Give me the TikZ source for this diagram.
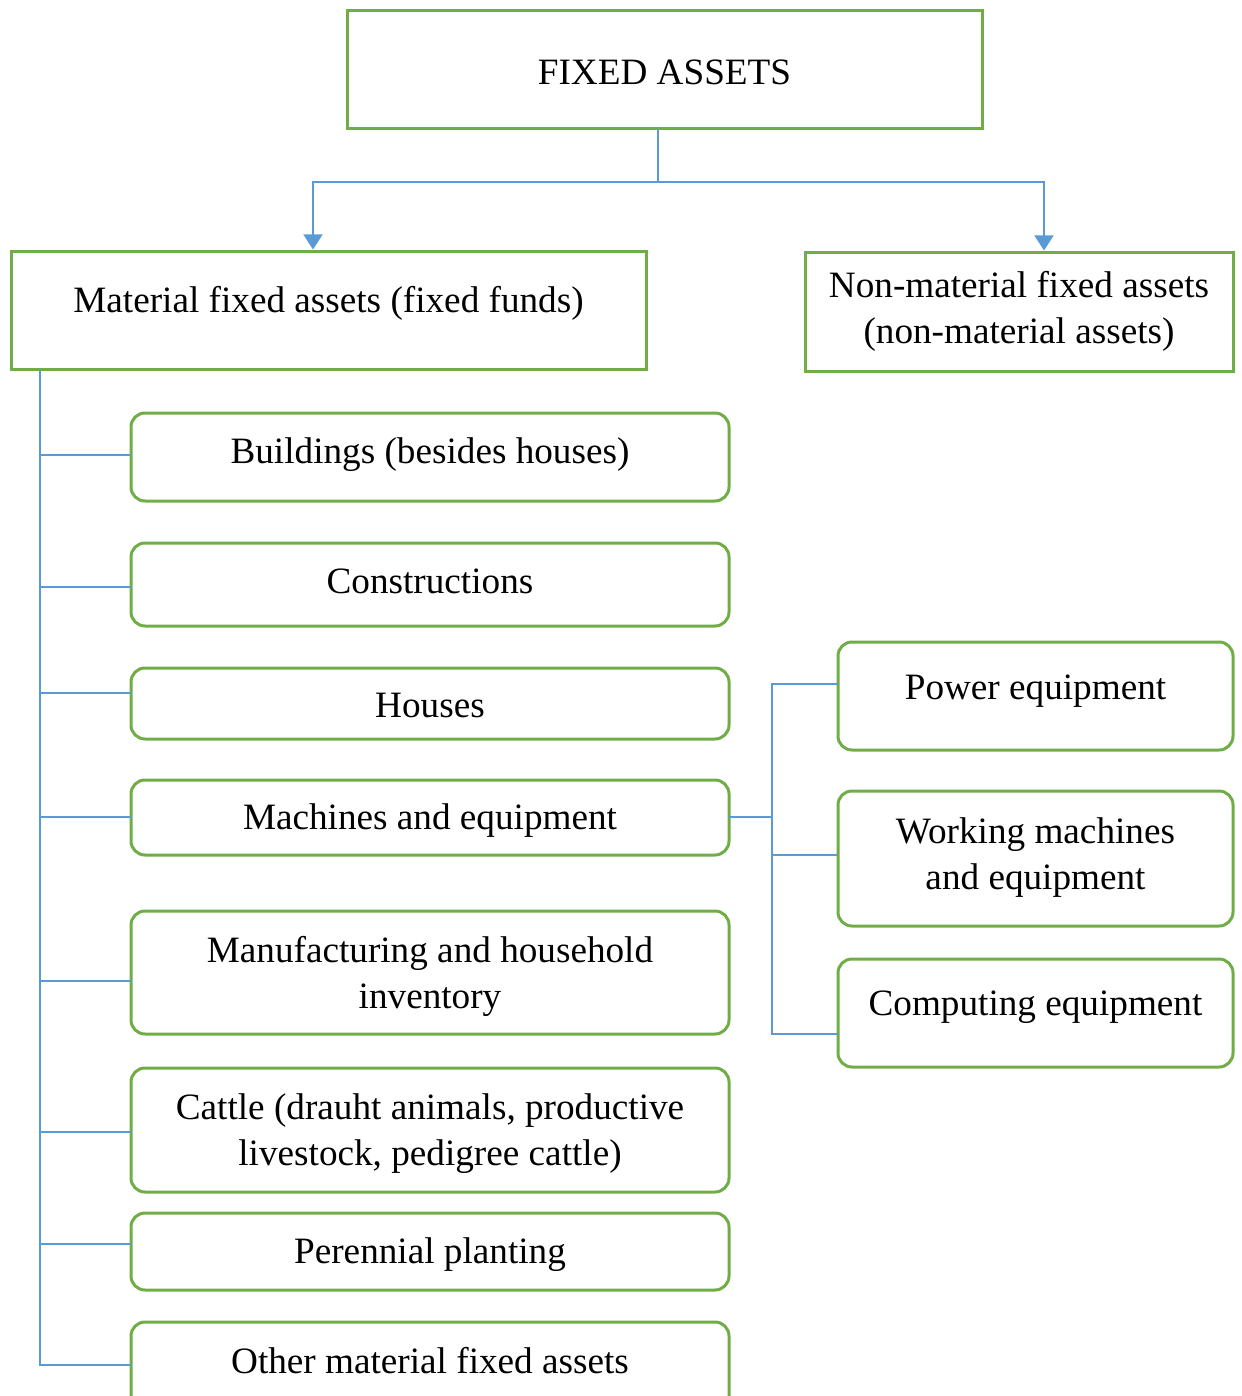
\documentclass[tikz,border=0pt]{standalone}
\usepackage{fontspec}
\setmainfont{Liberation Serif}
\usetikzlibrary{arrows.meta}
\definecolor{grn}{RGB}{112,173,71}
\definecolor{blu}{RGB}{91,155,213}
\newcommand\oneline[2]{\raisebox{#1}[13pt][4pt]{#2}}
\newcommand\twoline[2]{\raisebox{#1}[\height][\depth]{\begin{tabular}{@{}c@{}}#2\end{tabular}}}
\begin{document}
\begin{tikzpicture}[x=0.5pt,y=-0.5pt,
  every node/.style={font=\fontsize{18.6}{23}\selectfont, align=center, inner sep=0pt, outer sep=0pt},
  sqbox/.style={draw=grn, line width=1.5pt, fill=white},
  rbox/.style={draw=grn, line width=1.5pt, fill=white, rounded corners=7pt},
  lbox/.style={rbox, minimum width=299pt},
  rtbox/.style={rbox, minimum width=197.5pt},
  link/.style={draw=blu, line width=0.75pt},
  arr/.style={link, -{Triangle[width=9.5pt,length=7.5pt]}}]
\clip (0,0) rectangle (1241,1396);
\fill[white] (0,0) rectangle (1241,1396);

\node[sqbox, minimum width=317.5pt, minimum height=59pt] (fa) at (664.5,70) {\oneline{-3pt}{FIXED ASSETS}};
\node[sqbox, minimum width=317.5pt, minimum height=59pt] (mat) at (328.5,310) {\oneline{3.5pt}{Material fixed assets (fixed funds)}};
\node[sqbox, minimum width=214pt, minimum height=59.5pt] (nm) at (1019,311.5) {Non-material fixed assets\\(non-material assets)};

\node[lbox, minimum height=44pt] (bld) at (430,457) {\oneline{1.5pt}{Buildings (besides houses)}};
\node[lbox, minimum height=41.5pt] (con) at (430,584.5) {\oneline{0.25pt}{Constructions}};
\node[lbox, minimum height=35.5pt] (hou) at (430,703.5) {\oneline{-2.25pt}{Houses}};
\node[lbox, minimum height=37.5pt] (mac) at (430,817.5) {\oneline{-1.25pt}{Machines and equipment}};
\node[lbox, minimum height=61.5pt] (man) at (430,972.5) {\twoline{-1.75pt}{Manufacturing and household\\inventory}};
\node[lbox, minimum height=62pt] (cat) at (430,1130) {\twoline{-1.5pt}{Cattle (drauht animals, productive\\livestock, pedigree cattle)}};
\node[lbox, minimum height=38.5pt] (per) at (430,1251.5) {\oneline{-1.25pt}{Perennial planting}};
\node[lbox, minimum height=44pt] (oth) at (430,1366) {\oneline{1pt}{Other material fixed assets}};

\node[rtbox, minimum height=54pt] (pw) at (1035.5,696) {\oneline{3pt}{Power equipment}};
\node[rtbox, minimum height=67.5pt] (wk) at (1035.5,858.5) {\twoline{0.5pt}{Working machines\\and equipment}};
\node[rtbox, minimum height=54pt] (cp) at (1035.5,1013) {\oneline{3.5pt}{Computing equipment}};

% top connectors
\coordinate (j) at (658,182);
\draw[link] (fa.south -| j) -- (j);
\draw[arr] (j) -| ([xshift=-7.75pt,yshift=0.75pt]mat.north);
\draw[arr] (j) -| ([xshift=12.5pt,yshift=0.75pt]nm.north);

% left spine
\coordinate (sp) at ([xshift=14.5pt]mat.south west);
\draw[link] (sp) |- (oth.west |- 0,1365);
\foreach \b/\y in {bld/455,con/587,hou/693,mac/817,man/981,cat/1132,per/1244}
  \draw[link] (sp |- 0,\y) -- (\b.west |- 0,\y);

% right spine
\coordinate (rs) at ([xshift=21.5pt]mac.east);
\draw[link] (mac.east |- 0,817) -- (rs |- 0,817);
\draw[link] ([yshift=6pt]pw.west) -| (rs) |- ([yshift=-10.5pt]cp.west);
\draw[link] (wk.west |- 0,855) -- (rs |- 0,855);
\end{tikzpicture}
\end{document}
